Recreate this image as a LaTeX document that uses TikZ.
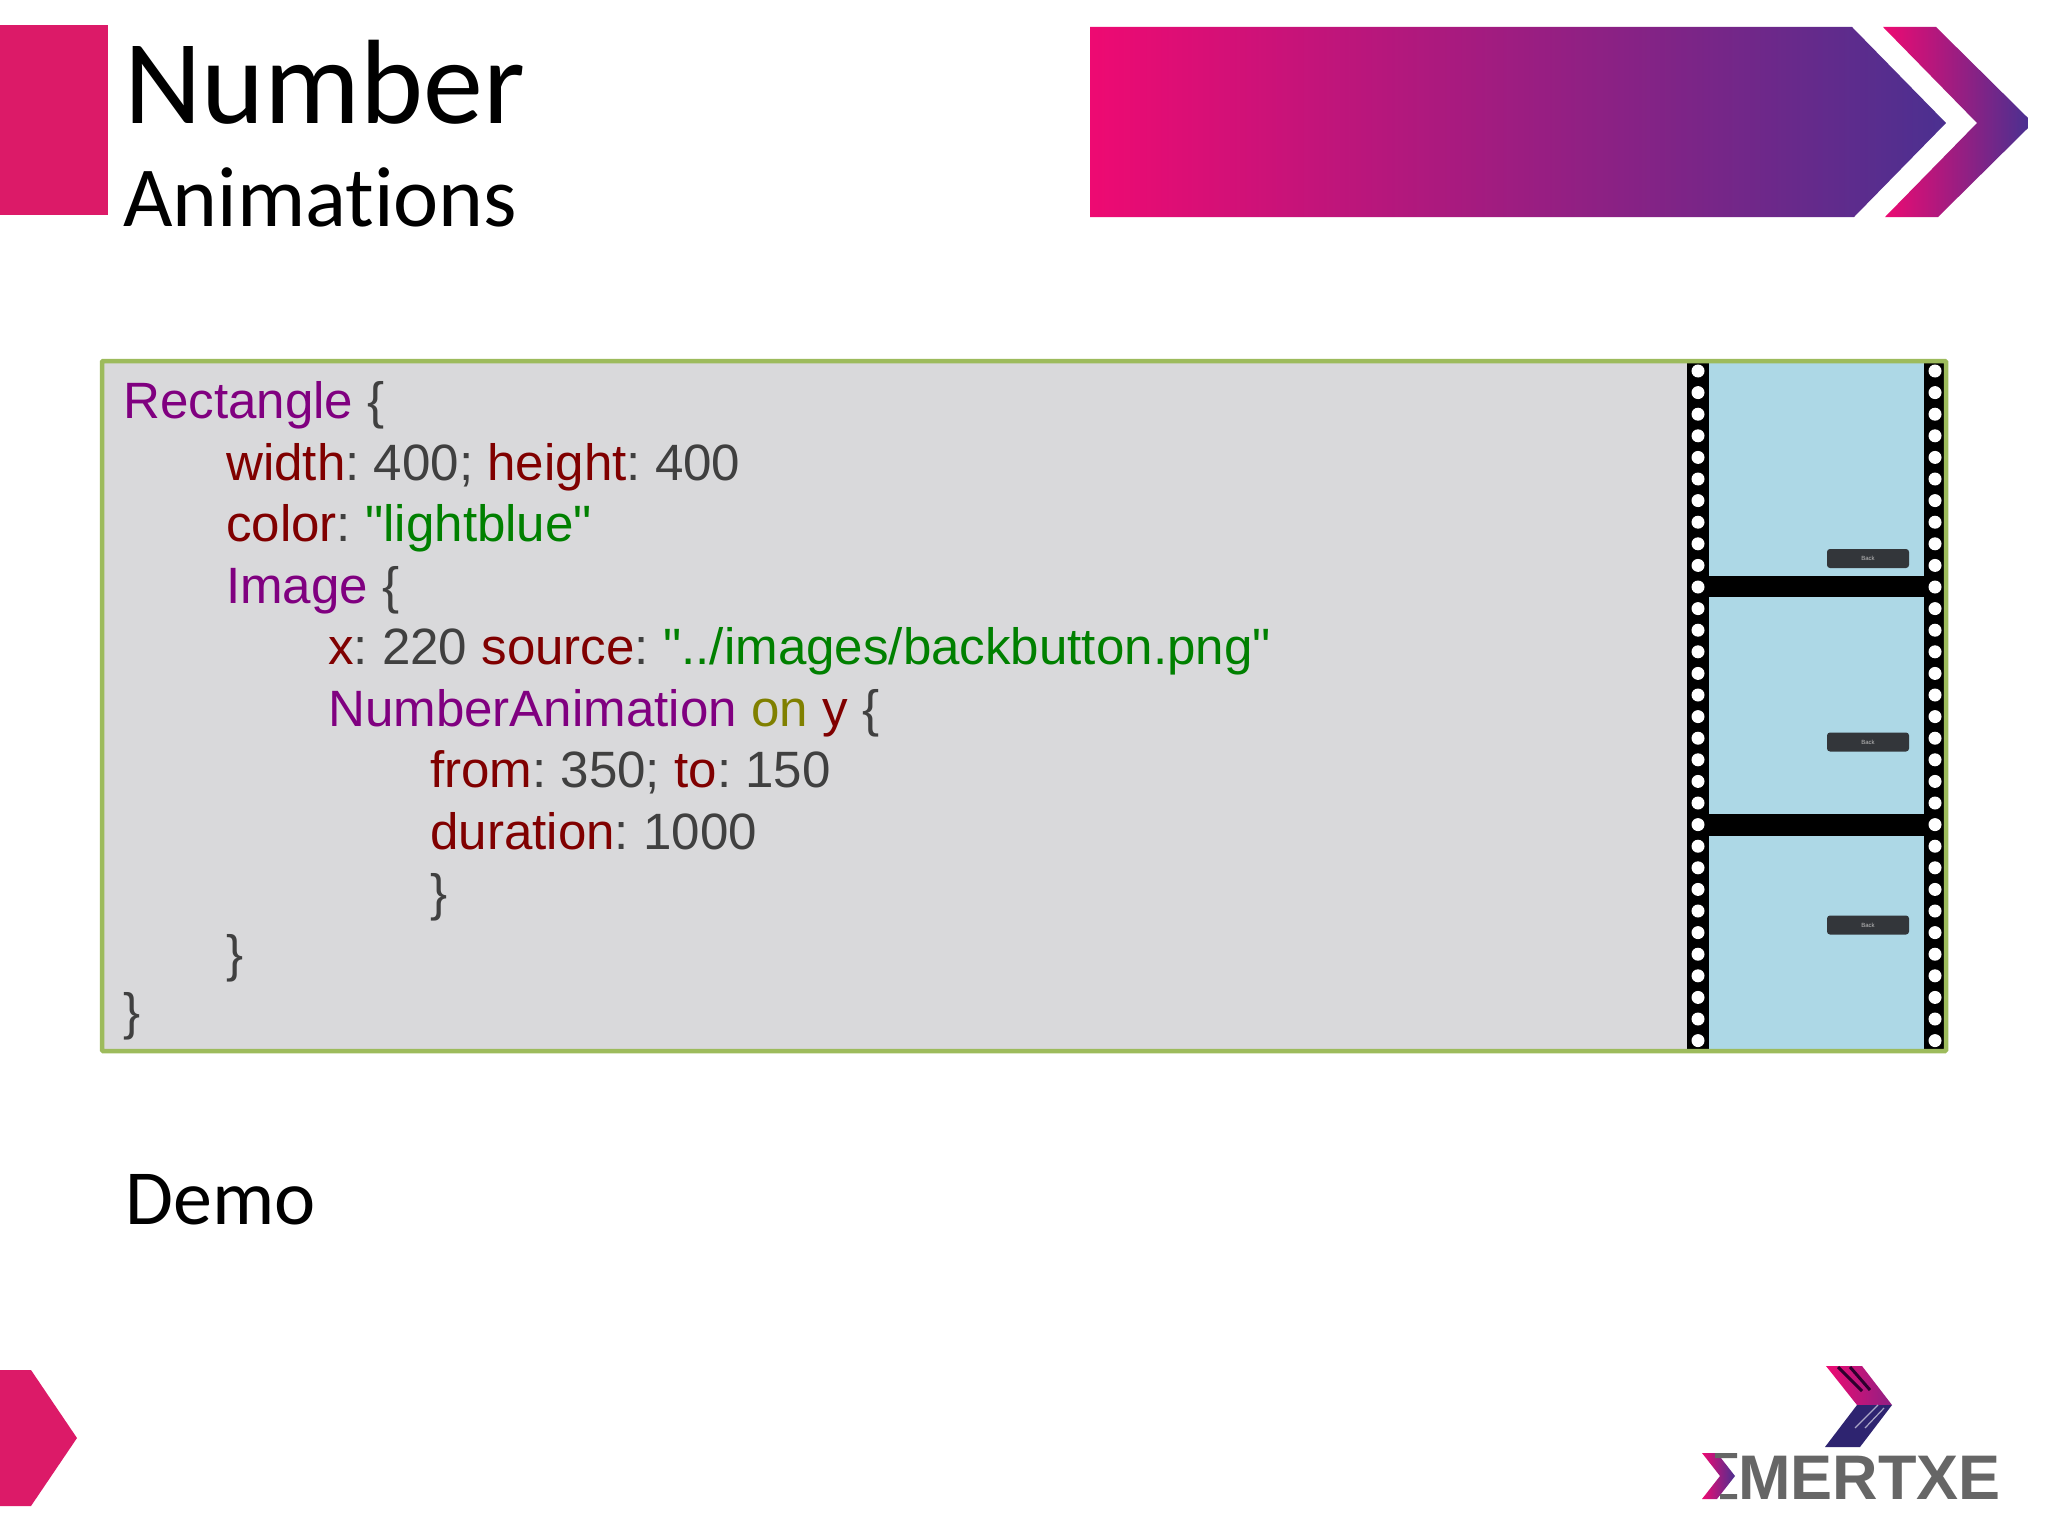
\documentclass[tikz,border=0pt]{standalone}
\usepackage{fontspec}
\setmainfont[Ligatures=TeXOff]{Liberation Sans}
\newfontfamily\titlefont[Ligatures=NoCommon]{Carlito}
\usetikzlibrary{shadings}
\definecolor{hotpink}{HTML}{DC1A68}
\definecolor{gradpink}{HTML}{EE0A72}
\definecolor{gradmid}{HTML}{A01C80}
\definecolor{gradblue}{HTML}{4B3090}
\definecolor{boxgreen}{HTML}{9DBB5C}
\definecolor{boxgrey}{HTML}{D9D9DB}
\definecolor{codegrey}{HTML}{404040}
\definecolor{qpurple}{HTML}{800080}
\definecolor{qmaroon}{HTML}{800000}
\definecolor{qgreen}{HTML}{008000}
\definecolor{qolive}{HTML}{808000}
\definecolor{filmblue}{HTML}{ADD8E6}
\definecolor{logogrey}{HTML}{666666}
\definecolor{logoblue}{HTML}{2E2470}
\definecolor{btn}{HTML}{33363A}
\newcommand{\qtype}[1]{\textcolor{qpurple}{#1}}
\newcommand{\qprop}[1]{\textcolor{qmaroon}{#1}}
\newcommand{\qstr}[1]{\textcolor{qgreen}{#1}}
\newcommand{\qkw}[1]{\textcolor{qolive}{#1}}
\tikzset{
  x=1pt,y=-1pt,
  codeline/.style={anchor=base west,inner sep=0pt,text=codegrey,font=\frenchspacing\fontsize{51.1}{51}\selectfont},
  titletext/.style={anchor=base west,inner sep=0pt,text=black},
  hole/.style={circle,fill=white,draw=none,inner sep=0pt,minimum size=13pt},
  backbtn/.style={rounded corners=3pt,fill=btn,draw=none,minimum width=82pt,minimum height=19pt,inner sep=0pt,
     text=white!75!black,font=\fontsize{6}{6}\selectfont},
}
\begin{document}
\begin{tikzpicture}
\useasboundingbox (0,0) rectangle (2048,1536);
\fill[white] (0,0) rectangle (2048,1536);
% header
\fill[hotpink] (0,25) rectangle (108,215);
\node[titletext,font=\titlefont\fontsize{120}{120}\selectfont] (title) at (124,124) {Number};
\node[titletext,font=\titlefont\fontsize{85.5}{86}\selectfont] (subtitle) at (123,226) {Animations};
\shade[left color=gradpink,middle color=gradmid,right color=gradblue]
  (1090,27) -- (1852,27) -- (1946,123) -- (1854,217) -- (1090,217) -- cycle;
\shade[left color=gradpink,right color=gradblue]
  (1883,27) -- (1936,27) -- (2028,118) -- (2028,128) -- (1938,217) -- (1885,217) -- (1977,123) -- cycle;
% code box
\fill[boxgrey] (102,361) rectangle (1946,1051);
\fill[filmblue] (1709,362) rectangle (1924,1051);
\fill[black] (1687,362) rectangle (1709,1051);
\fill[black] (1924,362) rectangle (1946,1051);
\fill[black] (1709,576) rectangle (1924,597);
\fill[black] (1709,814) rectangle (1924,836);
\foreach \k in {0,...,31}{
  \node[hole] (hl\k) at (1698,371+21.6*\k) {};
  \node[hole] (hr\k) at (1935,371+21.6*\k) {};
}
\draw[boxgreen,line width=4.5pt,rounded corners=1pt] (102,361) rectangle (1946,1051);
\node[backbtn] (b1) at (1868,558.5) {Back};
\node[backbtn] (b2) at (1868,742) {Back};
\node[backbtn] (b3) at (1868,925) {Back};
% code
\node[codeline] (c1) at (123,418) {\qtype{Rectangle} \{};
\node[codeline] (c2) at (226,480) {\qprop{width}: 400; \qprop{height}: 400};
\node[codeline] (c3) at (226,541) {\qprop{color}: \qstr{"lightblue"}};
\node[codeline] (c4) at (226,603) {\qtype{Image} \{};
\node[codeline] (c5) at (328,664) {\qprop{x}: 220 \qprop{source}: \qstr{"../images/backbutton.png"}};
\node[codeline] (c6) at (328,726) {\qtype{NumberAnimation} \qkw{on} \qprop{y} \{};
\node[codeline] (c7) at (430,787) {\qprop{from}: 350; \qprop{to}: 150};
\node[codeline] (c8) at (430,849) {\qprop{duration}: 1000};
\node[codeline] (c9) at (430,910) {\}};
\node[codeline] (c10) at (226,971) {\}};
\node[codeline] (c11) at (123,1029) {\}};
% demo
\node[titletext,font=\titlefont\fontsize{78}{78}\selectfont] (demo) at (125,1224) {Demo};
% bottom-left tab
\fill[hotpink] (0,1370) -- (31,1370) -- (77,1438) -- (31,1506) -- (0,1506) -- cycle;
% logo
\shade[left color=gradpink,right color=gradmid!80!gradblue]
  (1826,1366) -- (1862,1366) -- (1892,1405) -- (1857,1405) -- cycle;
\fill[logoblue] (1857,1405) -- (1892,1405) -- (1860,1447) -- (1825,1447) -- cycle;
\draw[black!65!qpurple,line width=3pt] (1838,1367) -- (1862,1391) (1850,1367) -- (1870,1390);
\draw[white!60!logoblue,line width=1.2pt] (1855,1428) -- (1878,1405) (1865,1428) -- (1884,1408);
\shade[left color=gradpink,right color=gradblue]
  (1702,1453) -- (1717,1453) -- (1735,1476) -- (1717,1499) -- (1702,1499) -- (1720,1476) -- cycle;
\fill[logogrey] (1715,1453) rectangle (1737,1458) (1720,1494) rectangle (1737,1499);
\node[anchor=base west,inner sep=0pt,text=logogrey,font=\bfseries\fontsize{63}{63}\selectfont] (logo) at (1738,1499) {MERTXE};
\end{tikzpicture}
\end{document}
